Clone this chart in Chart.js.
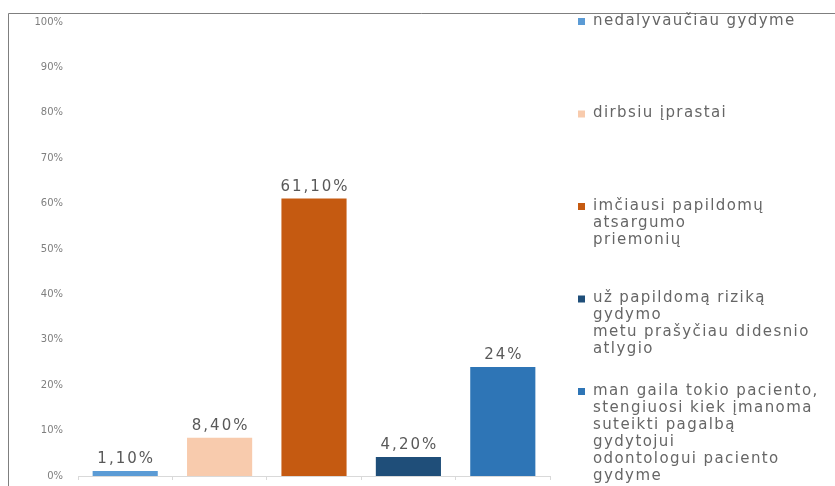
<!DOCTYPE html>
<html>
<head>
<meta charset="utf-8">
<script src="https://cdn.jsdelivr.net/npm/chart.js@4"></script>
<style>
  html, body { margin: 0; padding: 0; background: #fff; }
  #wrap { width: 835px; height: 486px; position: relative; }
</style>
</head>
<body>
<div id="wrap"><canvas id="myChart" width="835" height="486"></canvas></div>
<script>
// Categories (legend entries, already wrapped the way the picture shows them)
const categories = [
    ['nedalyvaučiau gydyme'],
    ['dirbsiu įprastai'],
    ['imčiausi papildomų', 'atsargumo', 'priemonių'],
    ['už papildomą riziką', 'gydymo', 'metu prašyčiau didesnio', 'atlygio'],
    ['man gaila tokio paciento,', 'stengiuosi kiek įmanoma', 'suteikti pagalbą', 'gydytojui', 'odontologui paciento', 'gydyme']
];
const values = [1.1, 8.4, 61.1, 4.2, 24];
const valueLabels = ['1,10%', '8,40%', '61,10%', '4,20%', '24%'];
const barColors = ['#5B9BD5', '#F8CBAD', '#C55A11', '#1F4E79', '#2E75B6'];
const yTicks = [0, 10, 20, 30, 40, 50, 60, 70, 80, 90, 100];

// Frame lines round the sheet area
const framePlugin = {
    id: 'frame',
    beforeDraw(chart) {
        const ctx = chart.ctx;
        ctx.save();
        ctx.strokeStyle = '#7f7f7f';
        ctx.lineWidth = 1;
        ctx.beginPath();
        ctx.moveTo(8.5, 486);
        ctx.lineTo(8.5, 13.5);
        ctx.lineTo(835, 13.5);
        ctx.stroke();
        ctx.restore();
    }
};

// Value labels above each bar
const valueLabelPlugin = {
    id: 'valueLabels',
    afterDatasetsDraw(chart) {
        const ctx = chart.ctx;
        const meta = chart.getDatasetMeta(0);
        ctx.save();
        ctx.font = '15px "DejaVu Sans"';
        ctx.letterSpacing = '2px';
        ctx.fillStyle = '#595959';
        ctx.textAlign = 'center';
        ctx.textBaseline = 'alphabetic';
        meta.data.forEach((bar, i) => {
            ctx.fillText(valueLabels[i], bar.x + 1, bar.y - 8);
        });
        ctx.restore();
    }
};

// Legend on the right, one item per category
const sideLegendPlugin = {
    id: 'sideLegend',
    afterDraw(chart) {
        const ctx = chart.ctx;
        ctx.save();
        ctx.font = '15px "DejaVu Sans"';
        ctx.letterSpacing = '1.4px';
        ctx.textBaseline = 'middle';
        ctx.textAlign = 'left';
        categories.forEach((lines, i) => {
            const y0 = 21 + i * 92.5;
            ctx.fillStyle = barColors[i];
            ctx.fillRect(578, y0 - 3, 7, 7);
            ctx.fillStyle = '#666666';
            lines.forEach((line, j) => {
                ctx.fillText(line, 593, y0 + j * 17);
            });
        });
        ctx.restore();
    }
};

const ctx = document.getElementById('myChart').getContext('2d');
const myChart = new Chart(ctx, {
    type: 'bar',
    data: {
        labels: categories,
        datasets: [{
            data: values,
            backgroundColor: barColors,
            borderWidth: 0,
            barPercentage: 0.69,
            categoryPercentage: 1
        }]
    },
    options: {
        responsive: false,
        animation: false,
        layout: {
            padding: { top: 22, right: 285, bottom: 0, left: 0 }
        },
        scales: {
            x: {
                ticks: { display: false },
                grid: {
                    drawOnChartArea: false,
                    drawTicks: true,
                    tickLength: 4,
                    color: '#d9d9d9'
                },
                border: { color: '#d9d9d9' },
                afterFit(scale) {
                    scale.height = 10;
                    scale.paddingLeft = 0;
                    scale.paddingRight = 0;
                }
            },
            y: {
                min: 0,
                max: 100,
                afterBuildTicks(scale) {
                    scale.ticks = yTicks.map(v => ({ value: v }));
                },
                ticks: {
                    padding: 7,
                    color: '#7f7f7f',
                    font: { family: 'DejaVu Sans', size: 10 },
                    callback: v => v + '%'
                },
                grid: { display: false },
                border: { display: false },
                afterFit(scale) {
                    scale.width = 78;
                    scale.paddingTop = 0;
                    scale.paddingBottom = 0;
                }
            }
        },
        plugins: {
            legend: { display: false },
            tooltip: { enabled: false }
        }
    },
    plugins: [framePlugin, valueLabelPlugin, sideLegendPlugin]
});
</script>
</body>
</html>
